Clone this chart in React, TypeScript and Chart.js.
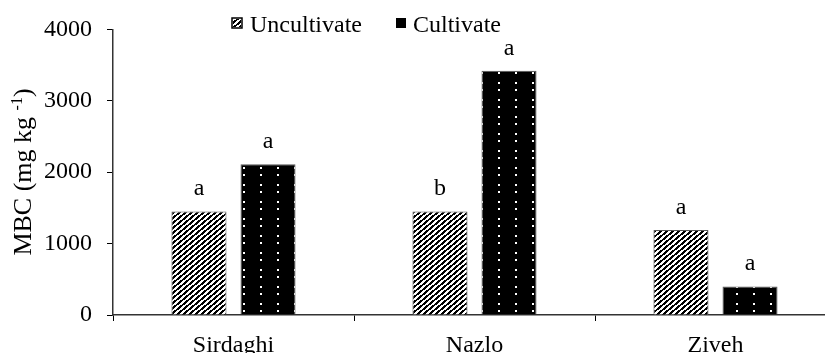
import React, { useEffect, useRef } from 'react';
import { Chart, registerables } from 'chart.js';

Chart.register(...registerables);

const categories = ['Sirdaghi', 'Nazlo', 'Ziveh'];
const seriesNames = ['Uncultivate', 'Cultivate'];
const uncultivate = [1450, 1450, 1190];
const cultivate = [2110, 3420, 400];
const uncultivateLetters = ['a', 'b', 'a'];
const cultivateLetters = ['a', 'a', 'a'];
const yMin = 0;
const yMax = 4000;
const yStep = 1000;

const FONT = '"Liberation Serif", "Times New Roman", serif';

function makeStripePattern(ctx0: CanvasRenderingContext2D): CanvasPattern | string {
  const W = 6;
  const H = 5;
  const c = document.createElement('canvas');
  c.width = W;
  c.height = H;
  const ctx = c.getContext('2d');
  if (!ctx) return '#000';
  const img = ctx.createImageData(W, H);
  for (let y = 0; y < H; y++) {
    for (let x = 0; x < W; x++) {
      const f = ((((y + (x * H) / W) % H) + H) % H) / H;
      const v = f < 0.5 ? 0 : 255;
      const i = (y * W + x) * 4;
      img.data[i] = v;
      img.data[i + 1] = v;
      img.data[i + 2] = v;
      img.data[i + 3] = 255;
    }
  }
  ctx.putImageData(img, 0, 0);
  return ctx0.createPattern(c, 'repeat') || '#000';
}

function makeDotPattern(ctx0: CanvasRenderingContext2D): CanvasPattern | string {
  const S = 17;
  const c = document.createElement('canvas');
  c.width = S;
  c.height = S;
  const ctx = c.getContext('2d');
  if (!ctx) return '#000';
  ctx.fillStyle = '#000';
  ctx.fillRect(0, 0, S, S);
  ctx.fillStyle = '#fff';
  ctx.fillRect(5, 4, 2, 2);
  ctx.fillRect(5, 14, 2, 2);
  return ctx0.createPattern(c, 'repeat') || '#000';
}

export default function App() {
  const ref = useRef<HTMLCanvasElement>(null);

  useEffect(() => {
    document.body.style.margin = '0';
    document.body.style.overflow = 'hidden';
    const canvas = ref.current;
    if (!canvas) return;
    const ctx = canvas.getContext('2d');
    if (!ctx) return;
    const stripe = makeStripePattern(ctx);
    const dots = makeDotPattern(ctx);

    const annotate = {
      id: 'annotate',
      afterDatasetsDraw(chart: any) {
        const c = chart.ctx as CanvasRenderingContext2D;
        c.save();
        c.fillStyle = '#000';
        c.font = `24px ${FONT}`;
        c.textAlign = 'center';
        c.textBaseline = 'alphabetic';
        const letterSets = [uncultivateLetters, cultivateLetters];
        chart.data.datasets.forEach((_: any, di: number) => {
          const meta = chart.getDatasetMeta(di);
          meta.data.forEach((el: any, i: number) => {
            c.fillText(letterSets[di][i], el.x, el.y - 16);
          });
        });

        // legend
        c.textAlign = 'left';
        c.font = `24px ${FONT}`;
        c.fillStyle = '#fff';
        c.fillRect(232, 18, 10, 10);
        c.fillStyle = stripe as any;
        c.fillRect(233, 19, 8, 8);
        c.strokeStyle = '#000';
        c.lineWidth = 1.5;
        c.strokeRect(232, 18, 10, 10);
        c.fillStyle = '#000';
        c.fillText(seriesNames[0], 250, 32);
        c.fillStyle = '#000';
        c.fillRect(396, 18, 10, 10);
        c.fillText(seriesNames[1], 413, 32);

        // y-axis title with superscript
        c.translate(31, 172);
        c.rotate(-Math.PI / 2);
        const main = 'MBC (mg kg ';
        const sup = '-1';
        const close = ')';
        const bigFont = `26px ${FONT}`;
        const smallFont = `16px ${FONT}`;
        c.font = bigFont;
        const w1 = c.measureText(main).width;
        const w3 = c.measureText(close).width;
        c.font = smallFont;
        const w2 = c.measureText(sup).width;
        const total = w1 + w2 + w3;
        let x = -total / 2;
        c.font = bigFont;
        c.fillText(main, x, 0);
        x += w1;
        c.font = smallFont;
        c.fillText(sup, x, -9);
        x += w2;
        c.font = bigFont;
        c.fillText(close, x, 0);
        c.restore();
      },
    };

    const chart = new Chart(canvas, {
      type: 'bar',
      data: {
        labels: categories,
        datasets: [
          {
            label: seriesNames[0],
            data: uncultivate,
            backgroundColor: stripe as any,
            borderColor: '#555',
            borderWidth: 1,
            barPercentage: 0.797,
            categoryPercentage: 0.573,
          },
          {
            label: seriesNames[1],
            data: cultivate,
            backgroundColor: dots as any,
            borderColor: '#555',
            borderWidth: 1,
            barPercentage: 0.797,
            categoryPercentage: 0.573,
          },
        ],
      },
      options: {
        responsive: false,
        animation: false,
        devicePixelRatio: 1,
        layout: { padding: { left: 0, right: 14, top: 25, bottom: 0 } },
        plugins: {
          legend: { display: false },
          tooltip: { enabled: false },
          title: { display: false },
        },
        scales: {
          x: {
            grid: {
              display: true,
              drawOnChartArea: false,
              drawTicks: true,
              tickLength: 6,
              color: '#000',
              offset: true,
            },
            border: { display: true, color: '#333', width: 1.5 },
            ticks: {
              color: '#000',
              font: { family: FONT, size: 24 },
              padding: 10,
              maxRotation: 0,
            },
            afterFit: (s: any) => {
              s.height = 50;
            },
          },
          y: {
            min: yMin,
            max: yMax,
            grid: {
              display: true,
              drawOnChartArea: false,
              drawTicks: true,
              tickLength: 6,
              color: '#000',
            },
            border: { display: true, color: '#333', width: 1.5 },
            ticks: {
              stepSize: yStep,
              color: '#000',
              font: { family: FONT, size: 24 },
              padding: 15,
              callback: (v: any) => String(v),
            },
            afterFit: (s: any) => {
              s.width = 113;
            },
          },
        },
      },
      plugins: [annotate],
    });

    return () => chart.destroy();
  }, []);

  return (
    <div style={{ width: 825, height: 353, overflow: 'hidden', position: 'relative' }}>
      <canvas ref={ref} width={850} height={365} style={{ display: 'block' }} />
    </div>
  );
}
